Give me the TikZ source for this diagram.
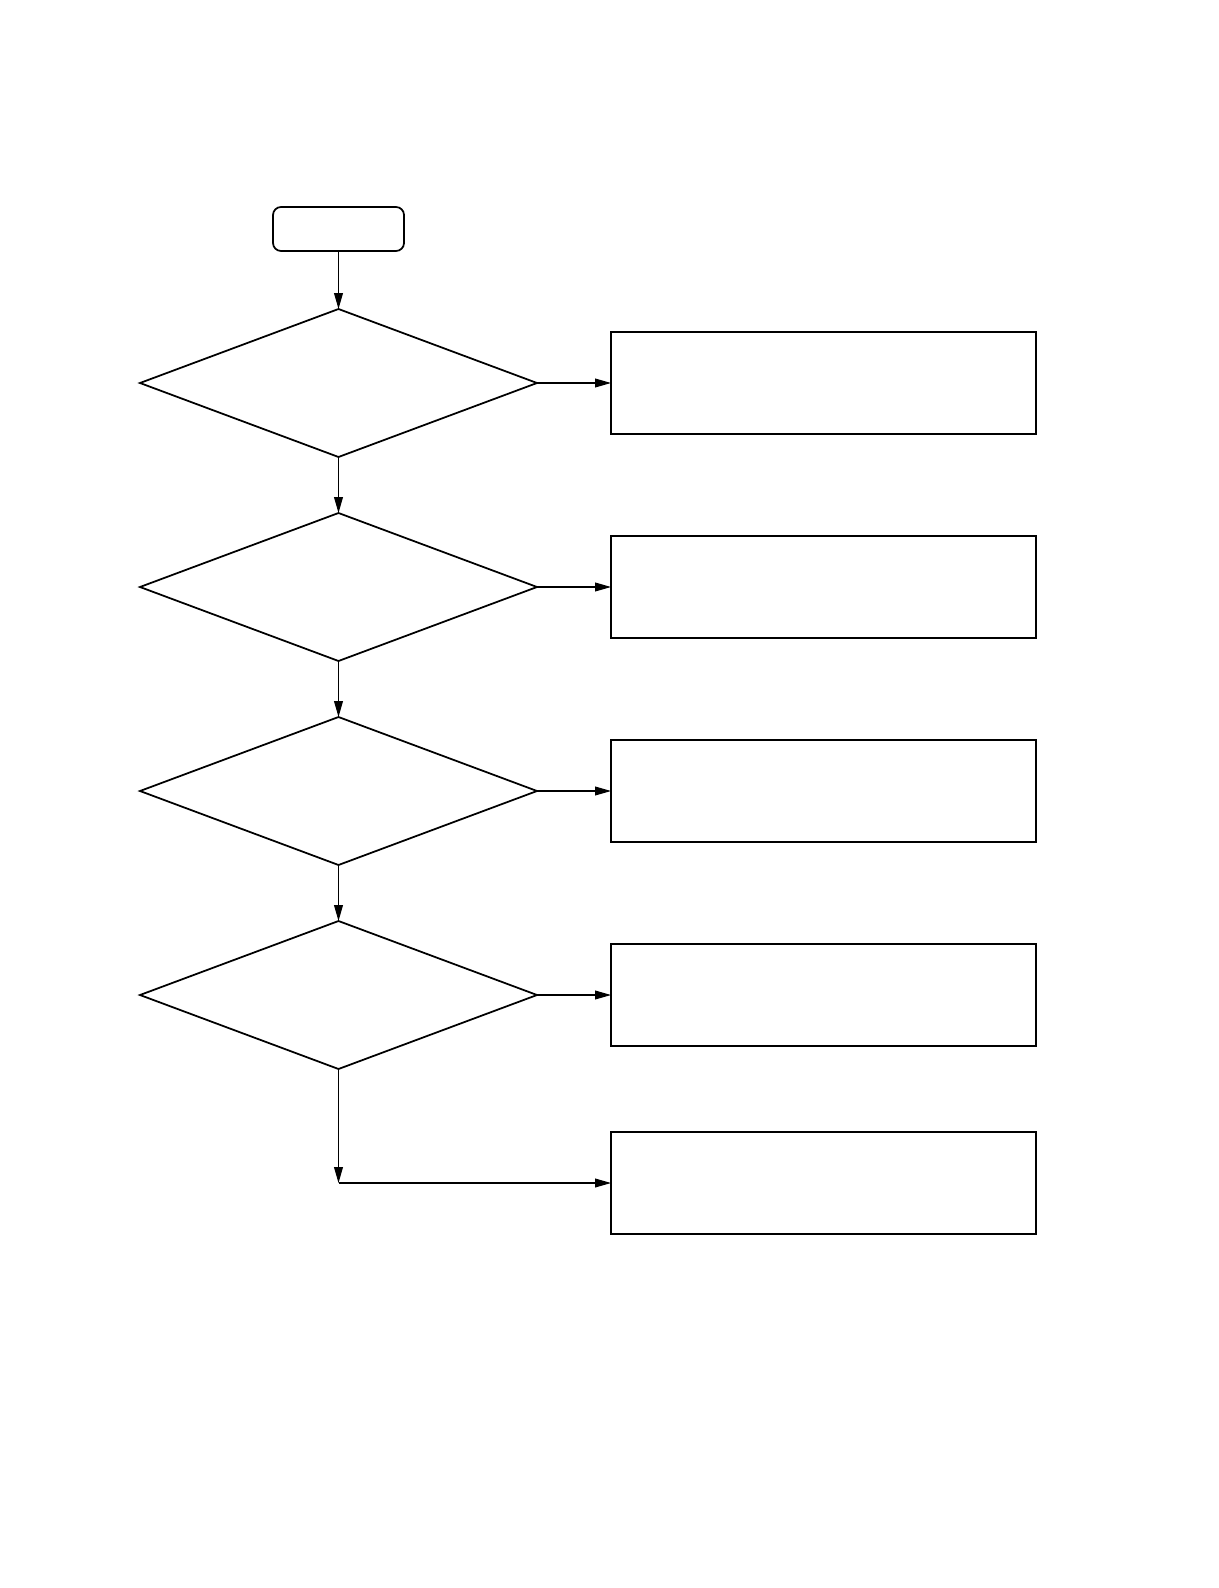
\documentclass[tikz,border=0pt]{standalone}
\usepackage{tikz}
\usetikzlibrary{arrows.meta, shapes.geometric, positioning}

\tikzset{
  startbox/.style={draw, line width=1pt, rounded corners=0.16cm, minimum width=2.62cm, minimum height=0.88cm, inner sep=0pt, outer sep=0pt},
  decision/.style={draw, diamond, line width=1pt, minimum width=7.94cm, minimum height=2.96cm, inner sep=0pt, outer sep=0pt},
  action/.style={draw, line width=1pt, minimum width=8.5cm, minimum height=2.04cm, inner sep=0pt, outer sep=0pt},
  arrow/.style={line width=0.6pt, -{Triangle[length=9pt, width=5pt]}}
}

\begin{document}
\begin{tikzpicture}
\useasboundingbox (0,0) rectangle (24.36,-31.76);
\node[startbox] (start) at (6.77,-4.58) {};
\node[decision, below=1.16cm of start] (d1) {};
\node[decision, below=1.12cm of d1] (d2) {};
\node[decision, below=1.12cm of d2] (d3) {};
\node[decision, below=1.12cm of d3] (d4) {};
\node[action, right=1.48cm of d1] (a1) {};
\node[action, right=1.48cm of d2] (a2) {};
\node[action, right=1.48cm of d3] (a3) {};
\node[action, right=1.48cm of d4] (a4) {};
\node[action, below=1.72cm of a4] (a5) {};
\coordinate (c5) at (d4 |- a5);
\draw[arrow] (start) -- (d1);
\draw[arrow] (d1) -- (d2);
\draw[arrow] (d2) -- (d3);
\draw[arrow] (d3) -- (d4);
\draw[arrow] (d1) -- (a1);
\draw[arrow] (d2) -- (a2);
\draw[arrow] (d3) -- (a3);
\draw[arrow] (d4) -- (a4);
\draw[arrow] (d4) -- (c5);
\draw[arrow] (c5) -- (a5);
\end{tikzpicture}
\end{document}
